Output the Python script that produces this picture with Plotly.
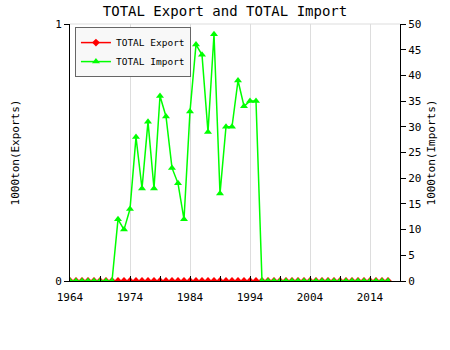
import plotly.graph_objects as go

years = list(range(1964, 2018))
imports = [0, 0, 0, 0, 0, 0, 0, 0,
           12, 10, 14, 28, 18, 31, 18, 36, 32, 22, 19, 12,
           33, 46, 44, 29, 48, 17, 30, 30, 39, 34, 35, 35] + [0] * 22
exports = [0] * len(years)

MONO = "DejaVu Sans Mono"

fig = go.Figure()
fig.add_trace(go.Scatter(
    x=years, y=exports, name="TOTAL Export", mode="lines+markers",
    line=dict(color="#ff0000", width=1.5),
    marker=dict(symbol="diamond", size=6, color="#ff0000"),
    yaxis="y"))
fig.add_trace(go.Scatter(
    x=years, y=imports, name="TOTAL Import", mode="lines+markers",
    line=dict(color="#00ff00", width=1.5),
    marker=dict(symbol="triangle-up", size=7, color="#00ff00"),
    yaxis="y2"))

fig.update_layout(
    width=450, height=350,
    margin=dict(l=70, r=50, t=24, b=69),
    paper_bgcolor="white", plot_bgcolor="white",
    font=dict(family=MONO, size=11, color="black"),
    title=dict(text="TOTAL Export and TOTAL Import", x=0.5, xanchor="center",
               y=1 - 11 / 350, yanchor="middle", yref="container",
               font=dict(family=MONO, size=14, color="black")),
    showlegend=True,
    legend=dict(x=0.015, y=0.988, xanchor="left", yanchor="top",
                bgcolor="#f8f8f8", bordercolor="#666666", borderwidth=1,
                font=dict(family=MONO, size=9.5, color="black"),
                tracegroupgap=0, itemwidth=30),
    xaxis=dict(range=[1964, 2019], tickvals=[1964, 1974, 1984, 1994, 2004, 2014],
               ticks="inside", ticklen=5, tickcolor="black",
               showline=True, linecolor="black", linewidth=1,
               showgrid=True, gridcolor="#dddddd", gridwidth=1,
               minor=dict(tickvals=[1969, 1979, 1989, 1999, 2009], ticks="inside",
                          ticklen=5, tickcolor="black", showgrid=False),
               zeroline=False, tickfont=dict(family=MONO, size=11),
               ticklabelstandoff=6),
    yaxis=dict(range=[0, 1], tickvals=[0, 1], ticks="outside", ticklen=5,
               tickcolor="black", showline=True, linecolor="black",
               showgrid=False, zeroline=False,
               title=dict(text="1000ton(Exports)", standoff=33,
                          font=dict(family=MONO, size=11)),
               automargin=False),
    yaxis2=dict(range=[0, 50], dtick=5, overlaying="y", side="right",
                ticks="outside", ticklen=5, tickcolor="black",
                showline=True, linecolor="black", showgrid=False, zeroline=False,
                title=dict(text="1000ton(Imports)", standoff=6,
                           font=dict(family=MONO, size=11)),
                automargin=False),
    shapes=[dict(type="line", xref="paper", yref="paper", x0=0, x1=1, y0=1, y1=1,
                 line=dict(color="#dddddd", width=1), layer="below")],
)

fig.write_html("out.html")
